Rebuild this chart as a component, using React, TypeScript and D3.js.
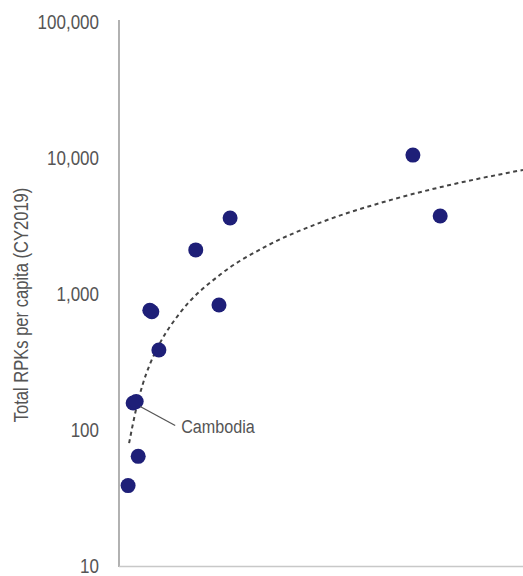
import React from "react";
import * as d3 from "d3";

const pointX = [1.8, 3.8, 2.8, 3.4, 7.9, 6.1, 6.5, 15.2, 19.8, 22.0, 58.2, 63.6];
const pointY = [39, 64, 158, 162, 387, 760, 740, 2110, 830, 3620, 10500, 3750];
const labelIndex = 3;
const labelText = "Cambodia";

const trendX = [2, 3.4, 4.75, 6.1, 8.1, 12, 20, 29, 40, 52, 65, 80];
const trendY = [80, 143, 220, 303, 435, 720, 1385, 2230, 3365, 4700, 6270, 8170];

const tickValues = [10, 100, 1000, 10000, 100000];
const tickLabels = ["10", "100", "1,000", "10,000", "100,000"];
const yTitle = "Total RPKs per capita (CY2019)";

const W = 523;
const H = 576;
const FONT = "'Liberation Sans', Arial, sans-serif";
const NARROW = 0.85;

export default function App() {
  const x = d3.scaleLinear().domain([0, 80]).range([119, 523]);
  const y = d3.scaleLog().domain([10, 100000]).range([566, 22]);
  const trend = d3
    .line<number>()
    .x((_, i) => x(trendX[i]))
    .y((d) => y(d))
    .curve(d3.curveMonotoneX)(trendY);

  const lx = x(pointX[labelIndex]);
  const ly = y(pointY[labelIndex]);

  return (
    <svg
      width={W}
      height={H}
      style={{ position: "absolute", left: 0, top: 0, background: "#fff" }}
      fontFamily={FONT}
    >
      <line x1={119} x2={119} y1={20} y2={567} stroke="#888" strokeWidth={1.3} />
      <line x1={119} x2={523} y1={566.5} y2={566.5} stroke="#c8c8c8" strokeWidth={1.5} />
      {tickValues.map((t, i) => (
        <text
          key={t}
          transform={`translate(99,${y(t)}) scale(${NARROW},1)`}
          textAnchor="end"
          dominantBaseline="central"
          fontSize={20}
          fill="#555"
        >
          {tickLabels[i]}
        </text>
      ))}
      <text
        transform={`translate(22,305) rotate(-90) scale(${NARROW},1)`}
        textAnchor="middle"
        dominantBaseline="central"
        fontSize={19.5}
        fill="#555"
      >
        {yTitle}
      </text>
      <path d={trend || ""} fill="none" stroke="#444" strokeWidth={2} strokeDasharray="4,3.5" />
      {pointX.map((px, i) => (
        <circle key={i} cx={x(px)} cy={y(pointY[i])} r={7.5} fill="#1e1f78" />
      ))}
      <line x1={lx + 4} y1={ly + 5} x2={lx + 39} y2={ly + 24} stroke="#555" strokeWidth={1.3} />
      <text
        transform={`translate(${lx + 45},${ly + 25}) scale(${NARROW},1)`}
        dominantBaseline="central"
        fontSize={19}
        fill="#555"
      >
        {labelText}
      </text>
    </svg>
  );
}
